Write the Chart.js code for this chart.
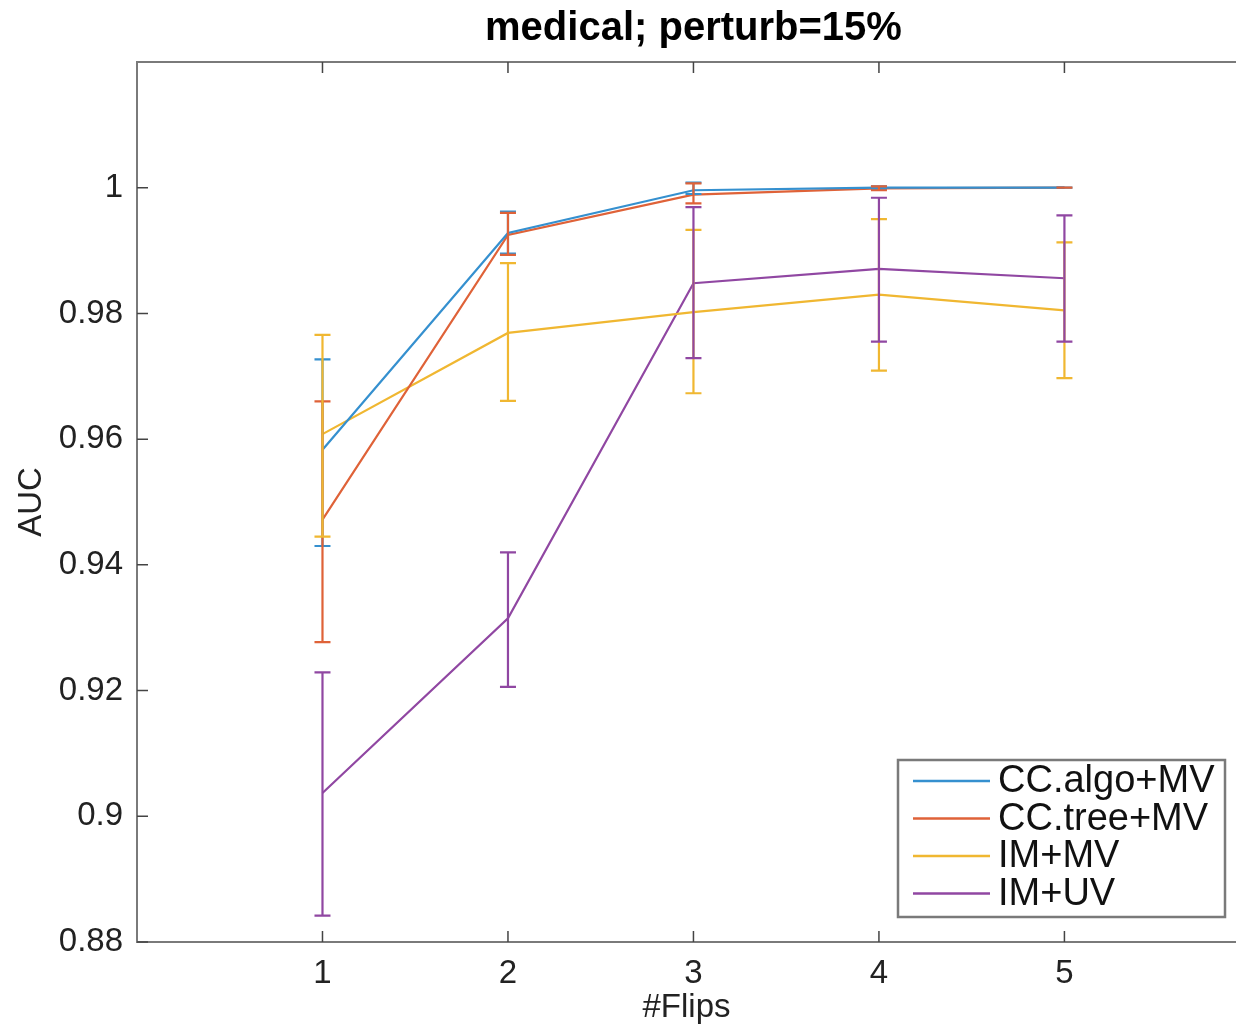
<!DOCTYPE html>
<html>
<head>
<meta charset="utf-8">
<script src="https://cdn.jsdelivr.net/npm/chart.js@4.4.1/dist/chart.umd.min.js"></script>
<style>
  html, body { margin: 0; padding: 0; background: #fff; }
  #wrap { width: 1236px; height: 1028px; }
</style>
</head>
<body>
<div id="wrap"><canvas id="c"></canvas></div>
<script>
/* AUC vs #Flips, medical dataset, 15% perturbation.
   Values; error bars are low/high bounds. */

const flips = [1, 2, 3, 4, 5];
const yTicks = [0.88, 0.90, 0.92, 0.94, 0.96, 0.98, 1.00];
const seriesNames = ["CC.algo+MV", "CC.tree+MV", "IM+MV", "IM+UV"];
const titleText = "medical; perturb=15%";

const ccAlgo     = [0.9583, 0.9928, 0.9996, 1.0000, 1.0000];
const ccAlgoLow  = [0.9430, 0.9895, 0.9990, 0.9998, 1.0000];
const ccAlgoHigh = [0.9727, 0.9962, 1.0008, 1.0002, 1.0000];

const ccTree     = [0.9472, 0.9925, 0.9989, 0.9999, 1.0000];
const ccTreeLow  = [0.9277, 0.9893, 0.9975, 0.9996, 1.0000];
const ccTreeHigh = [0.9660, 0.9960, 1.0007, 1.0002, 1.0000];

const imMv     = [0.9608, 0.9769, 0.9802, 0.9830, 0.9805];
const imMvLow  = [0.9445, 0.9661, 0.9673, 0.9709, 0.9697];
const imMvHigh = [0.9766, 0.9880, 0.9933, 0.9950, 0.9913];

const imUv     = [0.9037, 0.9315, 0.9848, 0.9871, 0.9856];
const imUvLow  = [0.8842, 0.9206, 0.9729, 0.9755, 0.9755];
const imUvHigh = [0.9229, 0.9420, 0.9969, 0.9984, 0.9956];

const COLORS = ["#3590cf", "#df6238", "#f0b731", "#9047a2"];
const FONT = "'Liberation Sans', Arial, Helvetica, sans-serif";
const FRAME = "#7a7a7a";

const mid = [ccAlgo, ccTree, imMv, imUv];
const lows = [ccAlgoLow, ccTreeLow, imMvLow, imUvLow];
const highs = [ccAlgoHigh, ccTreeHigh, imMvHigh, imUvHigh];

const pts = arr => flips.map((f, i) => ({ x: f, y: arr[i] }));

// error bars, drawn with the chart's own scales
const errorBars = {
  id: "errorBars",
  afterDatasetsDraw(chart) {
    const { ctx, scales: { x, y } } = chart;
    ctx.save();
    ctx.lineWidth = 2.2;
    mid.forEach((_, s) => {
      ctx.strokeStyle = COLORS[s];
      flips.forEach((f, i) => {
        const px = x.getPixelForValue(f);
        const y0 = y.getPixelForValue(lows[s][i]);
        const y1 = y.getPixelForValue(highs[s][i]);
        ctx.beginPath();
        ctx.moveTo(px, y0); ctx.lineTo(px, y1);
        ctx.moveTo(px - 8, y0); ctx.lineTo(px + 8, y0);
        ctx.moveTo(px - 8, y1); ctx.lineTo(px + 8, y1);
        ctx.stroke();
      });
    });
    ctx.restore();
  }
};

// MATLAB-style box with inward ticks, title over the axes, legend box
const frame = {
  id: "frame",
  afterDraw(chart) {
    const { ctx, chartArea: a, scales: { x, y } } = chart;
    ctx.save();
    ctx.strokeStyle = FRAME;
    ctx.lineWidth = 2;
    ctx.beginPath();
    ctx.moveTo(a.right + 2, a.top); ctx.lineTo(a.left, a.top);
    ctx.lineTo(a.left, a.bottom); ctx.lineTo(a.right + 2, a.bottom);
    ctx.stroke();
    ctx.strokeStyle = "#444";
    ctx.lineWidth = 1.5;
    ctx.beginPath();
    flips.forEach(f => {
      const px = x.getPixelForValue(f);
      ctx.moveTo(px, a.bottom); ctx.lineTo(px, a.bottom - 11);
      ctx.moveTo(px, a.top); ctx.lineTo(px, a.top + 11);
    });
    yTicks.forEach(v => {
      const py = y.getPixelForValue(v);
      ctx.moveTo(a.left, py); ctx.lineTo(a.left + 11, py);
    });
    ctx.stroke();

    // title, centred on the full axes box (which runs past the canvas edge)
    const cx = x.getPixelForValue(3);
    ctx.fillStyle = "#000";
    ctx.font = "bold 40px " + FONT;
    ctx.textAlign = "center";
    ctx.textBaseline = "alphabetic";
    ctx.fillText(titleText, cx, a.top - 22);

    // legend
    const bw = 327, bh = 157;
    const bx = a.right - 11 - bw, by = a.bottom - 25 - bh;
    ctx.fillStyle = "#fff";
    ctx.fillRect(bx, by, bw, bh);
    ctx.strokeStyle = FRAME;
    ctx.lineWidth = 2.5;
    ctx.strokeRect(bx, by, bw, bh);
    ctx.font = "38px " + FONT;
    ctx.textBaseline = "middle";
    ctx.textAlign = "left";
    chart.data.datasets.forEach((ds, i) => {
      const ry = by + 21 + i * 37.5;
      ctx.strokeStyle = ds.borderColor;
      ctx.lineWidth = 2.5;
      ctx.beginPath();
      ctx.moveTo(bx + 15, ry); ctx.lineTo(bx + 92, ry);
      ctx.stroke();
      ctx.fillStyle = "#111";
      ctx.fillText(ds.label, bx + 100, ry + 1);
    });
    ctx.restore();
  }
};

new Chart(document.getElementById("c"), {
  type: "line",
  data: {
    datasets: mid.map((arr, i) => ({
      label: seriesNames[i],
      data: pts(arr),
      borderColor: COLORS[i],
      backgroundColor: COLORS[i],
      borderWidth: 2.2,
      pointRadius: 0,
      tension: 0,
    })),
  },
  options: {
    responsive: true, maintainAspectRatio: false, animation: false,
    layout: { padding: { left: 0, right: 0, top: 62, bottom: 0 } },
    plugins: {
      legend: { display: false },
      tooltip: { enabled: false },
      title: { display: false },
    },
    scales: {
      x: {
        type: "linear", min: 0, max: 5.925,
        afterBuildTicks: s => { s.ticks = flips.map(v => ({ value: v })); },
        afterFit: s => { s.height = 86; },
        grid: { display: false }, border: { display: false },
        ticks: { color: "#222", padding: 4, font: { family: FONT, size: 33 }, maxRotation: 0 },
        title: { display: true, text: "#Flips", color: "#222", padding: { top: 0, bottom: 0 },
                 font: { family: FONT, size: 33 } },
      },
      y: {
        min: 0.88, max: 1.02,
        afterBuildTicks: s => { s.ticks = yTicks.map(v => ({ value: v })); },
        afterFit: s => { s.width = 137; },
        grid: { display: false }, border: { display: false },
        ticks: { color: "#222", padding: 6, font: { family: FONT, size: 33 },
                 callback: v => String(Math.round(v * 100) / 100) },
        title: { display: true, text: "AUC", color: "#222", padding: { top: 12, bottom: 4 },
                 font: { family: FONT, size: 33 } },
      },
    },
  },
  plugins: [errorBars, frame],
});
</script>
</body>
</html>
